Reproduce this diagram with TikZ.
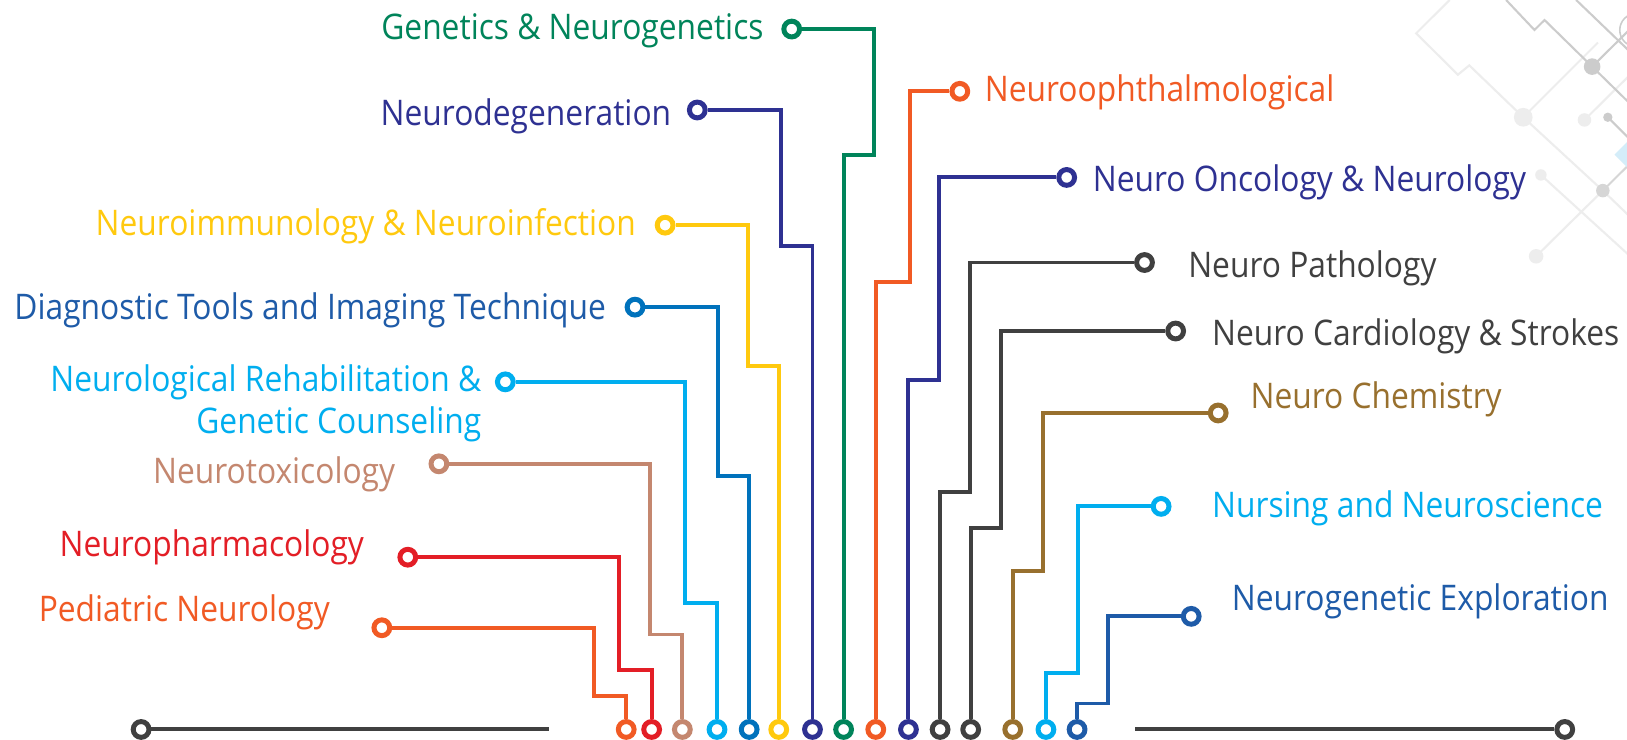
\documentclass[tikz,border=0pt]{standalone}
\usepackage{fontspec}
\setmainfont{Open Sans}[FakeStretch=0.90]
\definecolor{cgreen}{HTML}{00845A}
\definecolor{cnavy}{HTML}{2E3192}
\definecolor{cyellow}{HTML}{FFC90E}
\definecolor{cblue}{HTML}{0072BC}
\definecolor{cbluetext}{HTML}{1E5BA8}
\definecolor{clight}{HTML}{00AEEF}
\definecolor{ctan}{HTML}{C4876F}
\definecolor{cred}{HTML}{E31E26}
\definecolor{corange}{HTML}{F15A24}
\definecolor{cgray}{HTML}{404040}
\definecolor{cbrown}{HTML}{98702E}
\definecolor{cexpl}{HTML}{1E5BA8}
\definecolor{dk}{HTML}{CCCCCC}
\definecolor{lt}{HTML}{EDEDED}
\definecolor{ltblue}{HTML}{D4EDF9}
\tikzset{
  wire/.style={line width=3.8bp, line join=miter},
  ring/.style={circle, draw=#1, fill=white, line width=4.8bp, minimum size=15.2bp, inner sep=0pt},
  lbl/.style={text=#1, inner sep=0pt, font=\fontsize{34bp}{40bp}\selectfont},
  deco/.style={line width=2bp, draw=#1},
}
\begin{document}
\begin{tikzpicture}[x=1bp,y=-1bp]
\fill[white] (0,0) rectangle (1568,713);
\useasboundingbox (0,0) rectangle (1568,713);

% background decoration (top right)
\begin{scope}
\clip (0,0) rectangle (1568,713);
\draw[deco=lt] (1397,0) -- (1364.8,32.1) -- (1405,72) -- (1416,63) -- (1468,113) -- (1544.7,183.7) -- (1570,208);
\draw[deco=lt] (1468,113) -- (1540,41);
\draw[deco=lt] (1527,115.6) -- (1570,73);
\draw[deco=lt] (1544.7,183.7) -- (1480.4,247);
\draw[deco=lt] (1485,168.6) -- (1570,246);
\fill[lt] (1468,113) circle (9);
\fill[lt] (1527,115.6) circle (6.5);
\fill[lt] (1480.4,247) circle (7);
\fill[lt] (1485,168.6) circle (5.5);
\draw[deco=dk] (1451.5,0) -- (1478.8,28.9) -- (1488.5,19.3) -- (1534.4,64.2) -- (1570,99);
\draw[deco=dk] (1534.4,64.2) -- (1570,29);
\draw[deco=dk] (1519,0) -- (1570,49);
\draw[deco=dk, line width=1.5bp] (1577,29) circle (16);
\draw[deco=dk] (1549.5,113) -- (1570,133.5);
\draw[deco=dk!80] (1544.7,183.7) -- (1570,158.5);
\fill[dk] (1534.4,64.2) circle (8);
\fill[dk] (1549.5,113) circle (4.5);
\fill[dk!80] (1544.7,183.7) circle (6.5);
\fill[ltblue] (1556,149) -- (1568,137) -- (1580,149) -- (1568,161) -- cycle;
\end{scope}

% label end rings
\node[ring=cgreen]  (cGen)   at (763,28)  {};
\node[ring=cnavy]   (cDegen) at (672,106) {};
\node[ring=cyellow] (cImmun) at (641,217) {};
\node[ring=cblue]   (cDiag)  at (612,296) {};
\node[ring=clight]  (cRehab) at (487,368) {};
\node[ring=ctan]    (cTox)   at (423,447) {};
\node[ring=cred]    (cPharm) at (393,537) {};
\node[ring=corange] (cPed)   at (368,605) {};
\node[ring=corange] (cOphth) at (925,88)  {};
\node[ring=cnavy]   (cOnc)   at (1028,171) {};
\node[ring=cgray]   (cPath)  at (1103,253) {};
\node[ring=cgray]   (cCard)  at (1133,319) {};
\node[ring=cbrown]  (cChem)  at (1174,398) {};
\node[ring=clight]  (cNurs)  at (1119,488) {};
\node[ring=cexpl]   (cExpl)  at (1148,594) {};

% bottom rings
\node[ring=corange] (bPed)   at (603.5,703) {};
\node[ring=cred]    (bPharm) at (628,703) {};
\node[ring=ctan]    (bTox)   at (657.6,703) {};
\node[ring=clight]  (bRehab) at (691,703) {};
\node[ring=cblue]   (bDiag)  at (722,703) {};
\node[ring=cyellow] (bImmun) at (750.5,703) {};
\node[ring=cnavy]   (bDegen) at (783,703) {};
\node[ring=cgreen]  (bGen)   at (813,703) {};
\node[ring=corange] (bOphth) at (844,703) {};
\node[ring=cnavy]   (bOnc)   at (875.5,703) {};
\node[ring=cgray]   (bPath)  at (906,703) {};
\node[ring=cgray]   (bCard)  at (935.5,703) {};
\node[ring=cbrown]  (bChem)  at (976,703) {};
\node[ring=clight]  (bNurs)  at (1008,703) {};
\node[ring=cexpl]   (bExpl)  at (1038,703) {};

% bottom gray lines
\node[ring=cgray] (bl) at (136,703) {};
\coordinate (blEnd) at (529,703);
\coordinate (brStart) at (1094,703);
\node[ring=cgray] (br) at (1508,703) {};
\draw[wire, draw=cgray] (bl) -- (blEnd);
\draw[wire, draw=cgray] (brStart) -- (br);

% wires
\draw[wire, draw=corange] (cPed)   -| (572,671)   -| (bPed);
\draw[wire, draw=cred]    (cPharm) -| (596.5,645.5) -| (bPharm);
\draw[wire, draw=ctan]    (cTox)   -| (626,611.5) -| (bTox);
\draw[wire, draw=clight]  (cRehab) -| (660,581.5) -| (bRehab);
\draw[wire, draw=cblue]   (cDiag)  -| (691.5,459) -| (bDiag);
\draw[wire, draw=cyellow] (cImmun) -| (720.5,353) -| (bImmun);
\draw[wire, draw=cnavy]   (cDegen) -| (752.5,237) -| (bDegen);
\draw[wire, draw=cgreen]  (cGen)   -| (842,149)   -| (bGen);
\draw[wire, draw=corange] (cOphth) -| (877,272)   -| (bOphth);
\draw[wire, draw=cnavy]   (cOnc)   -| (905,366.5) -| (bOnc);
\draw[wire, draw=cgray]   (cPath)  -| (935,474.5) -| (bPath);
\draw[wire, draw=cgray]   (cCard)  -| (965,509)   -| (bCard);
\draw[wire, draw=cbrown]  (cChem)  -| (1005.5,550) -| (bChem);
\draw[wire, draw=clight]  (cNurs)  -| (1038.5,649) -| (bNurs);
\draw[wire, draw=cexpl]   (cExpl)  -| (1067.5,678) -| (bExpl);

% left labels
\node[lbl=cgreen,    anchor=base east] (tGen)   at (736,38)  {Genetics \& Neurogenetics};
\node[lbl=cnavy,     anchor=base east] (tDegen) at (647,121) {Neurodegeneration};
\node[lbl=cyellow,   anchor=base east] (tImmun) at (613,227) {Neuroimmunology \& Neuroinfection};
\node[lbl=cbluetext, anchor=base east] (tDiag)  at (584,308) {Diagnostic Tools and Imaging Technique};
\node[lbl=clight,    anchor=base east] (tRehabA) at (464,377) {Neurological Rehabilitation \&};
\node[lbl=clight,    anchor=base east] (tRehabB) at (464,418) {Genetic Counseling};
\node[lbl=ctan,      anchor=base east] (tTox)   at (381,466) {Neurotoxicology};
\node[lbl=cred,      anchor=base east] (tPharm) at (351,536) {Neuropharmacology};
\node[lbl=corange,   anchor=base east] (tPed)   at (318,599) {Pediatric Neurology};

% right labels
\node[lbl=corange, anchor=base west] (tOphth) at (949,98)   {Neuroophthalmological};
\node[lbl=cnavy,   anchor=base west] (tOnc)   at (1053,185) {Neuro Oncology \& Neurology};
\node[lbl=cgray,   anchor=base west] (tPath)  at (1145,267) {Neuro Pathology};
\node[lbl=cgray,   anchor=base west] (tCard)  at (1168,333) {Neuro Cardiology \& Strokes};
\node[lbl=cbrown,  anchor=base west] (tChem)  at (1205,394) {Neuro Chemistry};
\node[lbl=clight,  anchor=base west] (tNurs)  at (1168,499) {Nursing and Neuroscience};
\node[lbl=cexpl,   anchor=base west] (tExpl)  at (1187,588) {Neurogenetic Exploration};
\end{tikzpicture}
\end{document}
